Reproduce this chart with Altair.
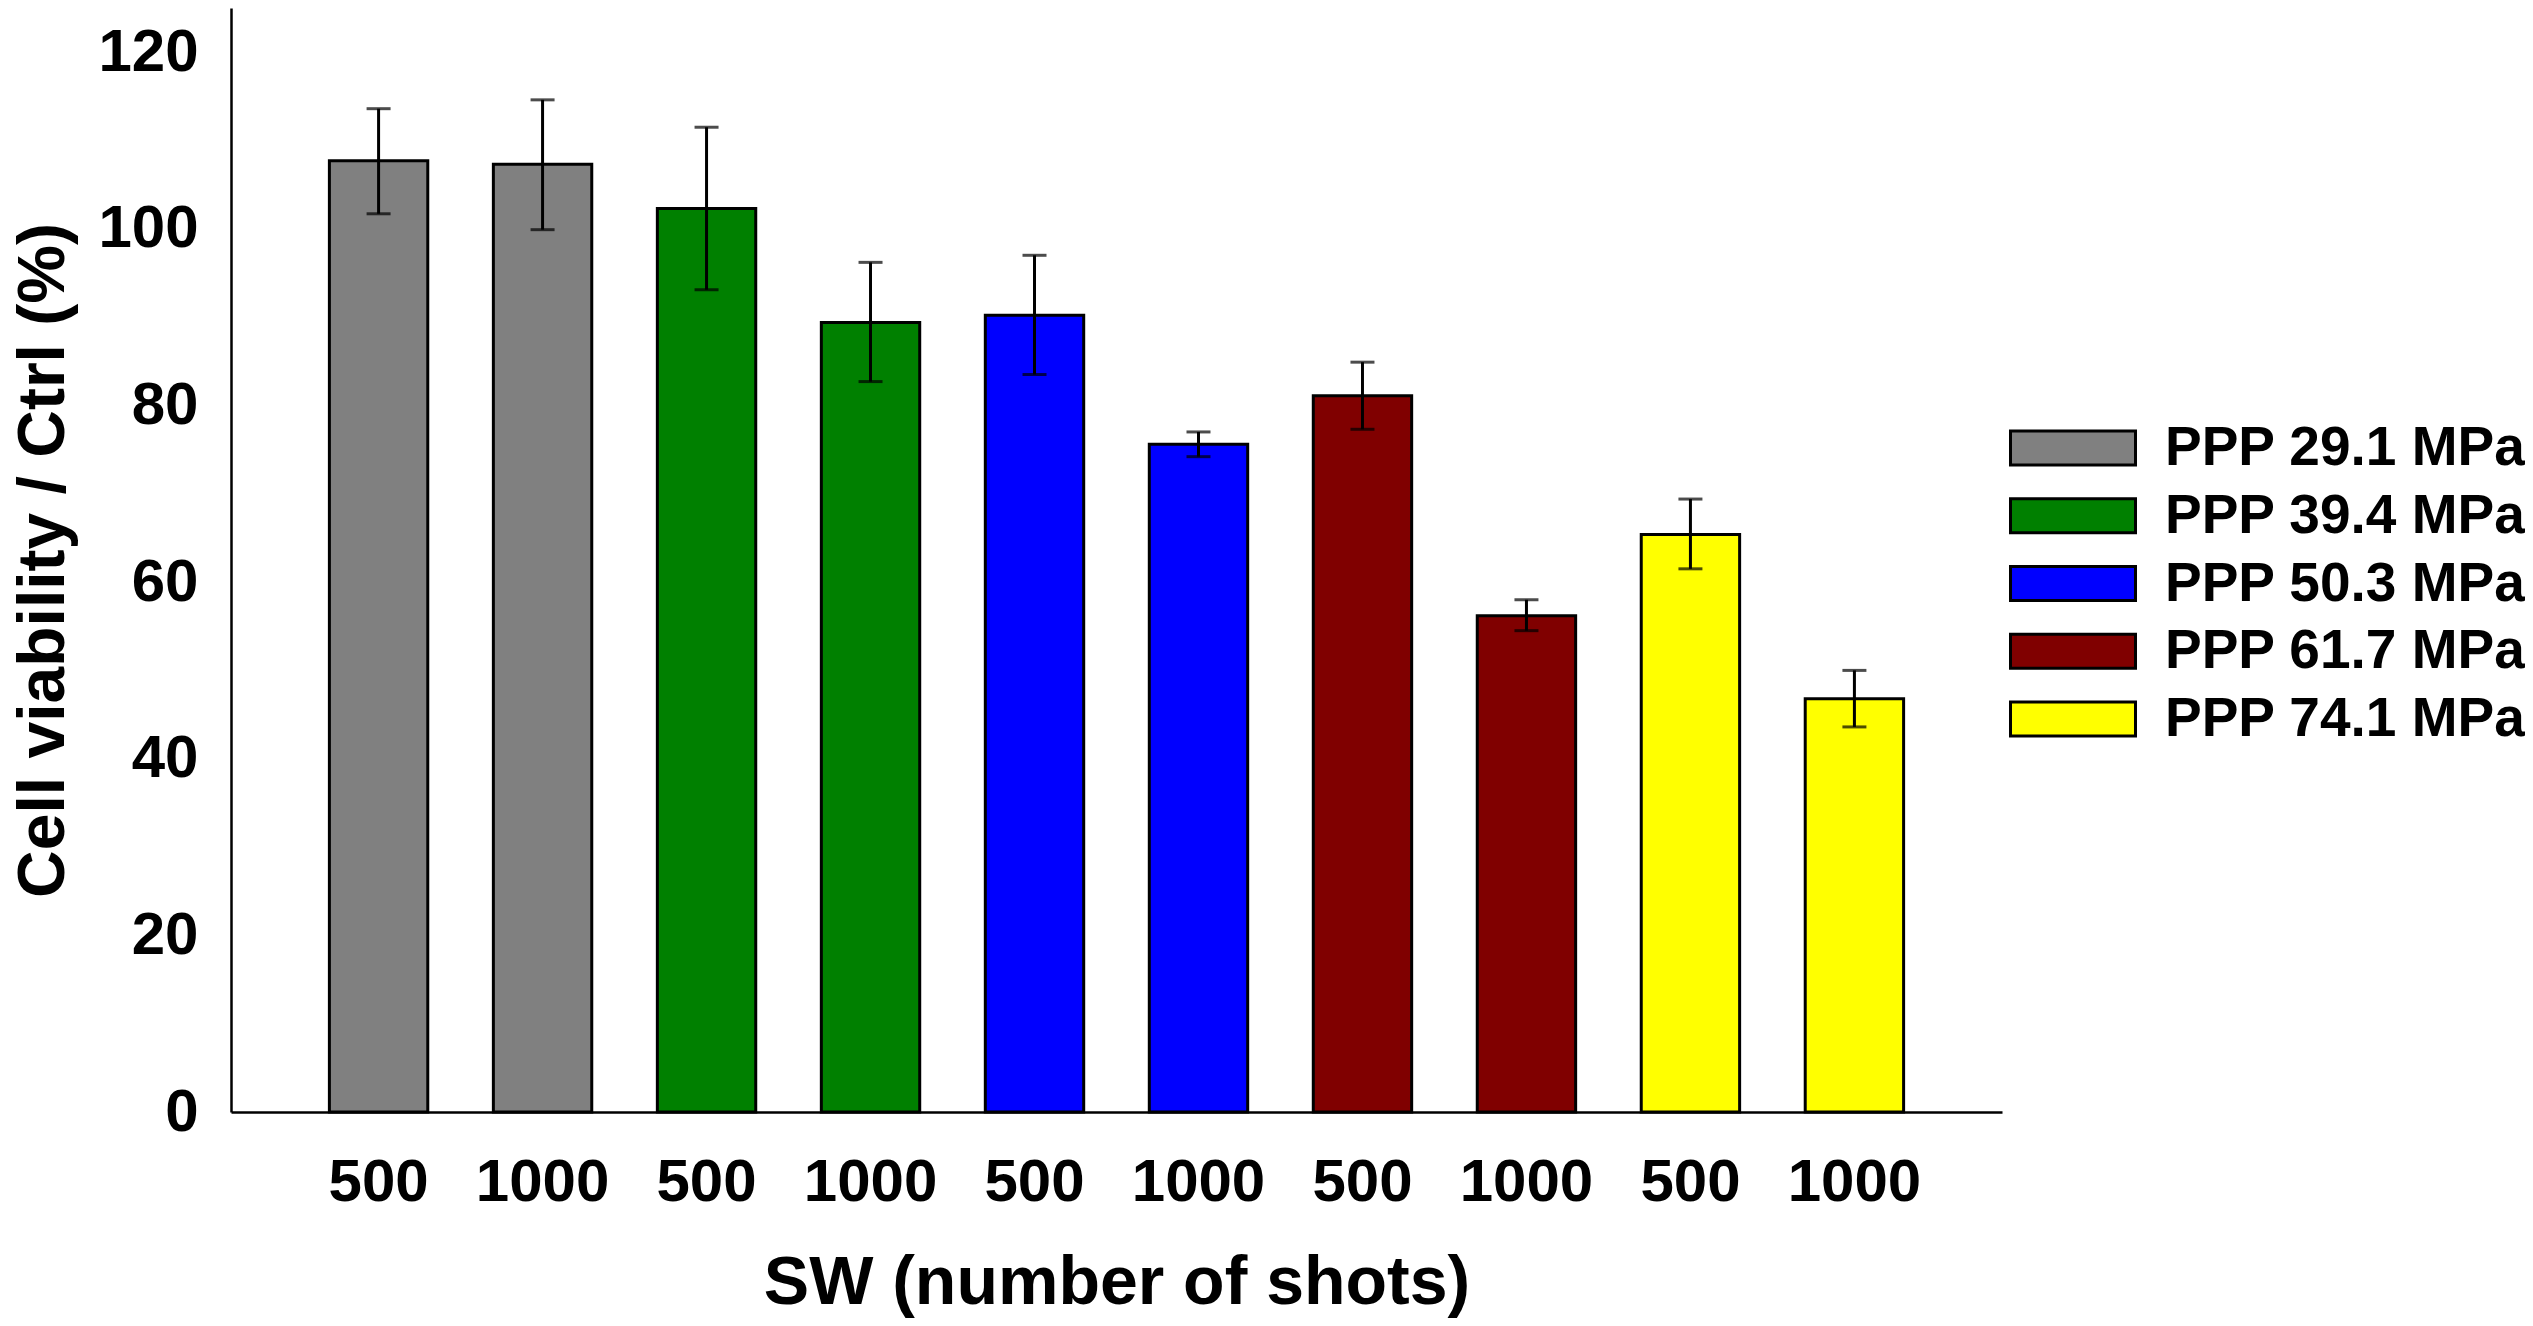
import altair as alt
import pandas as pd

groups = ["PPP 29.1 MPa", "PPP 39.4 MPa", "PPP 50.3 MPa", "PPP 61.7 MPa", "PPP 74.1 MPa"]
colors = ["#808080", "#008000", "#0000FF", "#800000", "#FFFF00"]
shots = ["500", "1000"]
viability = [107.7, 107.3, 102.3, 89.4, 90.2, 75.6, 81.1, 56.2, 65.4, 46.8]
err_low = [101.7, 99.9, 93.1, 82.7, 83.5, 74.2, 77.3, 54.5, 61.5, 43.6]
err_high = [113.6, 114.6, 111.5, 96.2, 97.0, 77.0, 84.9, 58.0, 69.4, 50.0]
y_ticks = [0, 20, 40, 60, 80, 100, 120]

rows = []
i = 0
for g in groups:
    for s in shots:
        rows.append({"key": f"{g}|{s}", "group": g, "shots": s,
                     "v": viability[i], "lo": err_low[i], "hi": err_high[i]})
        i += 1
df = pd.DataFrame(rows)
order = list(df["key"])

FONT = "Liberation Sans"

x_enc = alt.X(
    "key:N", sort=order,
    scale=alt.Scale(paddingInner=0.4, paddingOuter=0.6),
    axis=alt.Axis(
        labelExpr="split(datum.label, '|')[1]", labelAngle=0,
        ticks=False, tickSize=0, labelPadding=41,
        labelFont=FONT, labelFontSize=60, labelFontWeight="bold", labelColor="black",
        domainColor="black", domainWidth=2.5,
        title="SW (number of shots)", titleFont=FONT, titleFontSize=68,
        titleFontWeight="bold", titleColor="black",
        titleX=885.5, titleY=191.5, titleAlign="center", titleBaseline="alphabetic",
        grid=False,
    ),
)

y_scale = alt.Scale(domain=[0, 125], nice=False, zero=True)
y_axis = alt.Axis(
    values=y_ticks, ticks=False, tickSize=0, labelPadding=33,
    labelFont=FONT, labelFontSize=60, labelFontWeight="bold", labelColor="black",
    domainColor="black", domainWidth=2.5, grid=False,
    title="Cell viability / Ctrl (%)", titleFont=FONT, titleFontSize=66,
    titleFontWeight="bold", titleColor="black",
    titleX=-168, titleY=552, titleAlign="center", titleBaseline="alphabetic",
)

rect_path = "M-1,-0.272L1,-0.272L1,0.272L-1,0.272Z"

bars = alt.Chart(df).mark_bar(stroke="black", strokeWidth=3).encode(
    x=x_enc,
    y=alt.Y("v:Q", scale=y_scale, axis=y_axis),
    color=alt.Color(
        "group:N",
        scale=alt.Scale(domain=groups, range=colors),
        legend=alt.Legend(
            title=None, orient="none", legendX=1778, legendY=414,
            symbolType=rect_path, symbolSize=15625,
            symbolStrokeColor="black", symbolStrokeWidth=3,
            labelFont=FONT, labelFontSize=55, labelFontWeight="bold",
            labelColor="black", labelOffset=28, labelLimit=1000,
            clipHeight=52, rowPadding=12.75, padding=0,
        ),
    ),
)

rules = alt.Chart(df).mark_rule(color="black", strokeWidth=3).encode(
    x=alt.X("key:N", sort=order),
    y=alt.Y("lo:Q", scale=y_scale),
    y2="hi:Q",
)

caps_hi = alt.Chart(df).mark_tick(color="black", thickness=3, size=24).encode(
    x=alt.X("key:N", sort=order),
    y=alt.Y("hi:Q", scale=y_scale),
)
caps_lo = alt.Chart(df).mark_tick(color="black", thickness=3, size=24).encode(
    x=alt.X("key:N", sort=order),
    y=alt.Y("lo:Q", scale=y_scale),
)

chart = alt.layer(bars, rules, caps_hi, caps_lo).properties(
    width=1771, height=1104,
    padding={"left": 223, "top": 0, "right": 523, "bottom": 206},
    autosize=alt.AutoSizeParams(type="none"),
    background="white",
).configure_view(stroke=None)

chart.save("out.html", embed_options={"renderer": "svg", "actions": False})
